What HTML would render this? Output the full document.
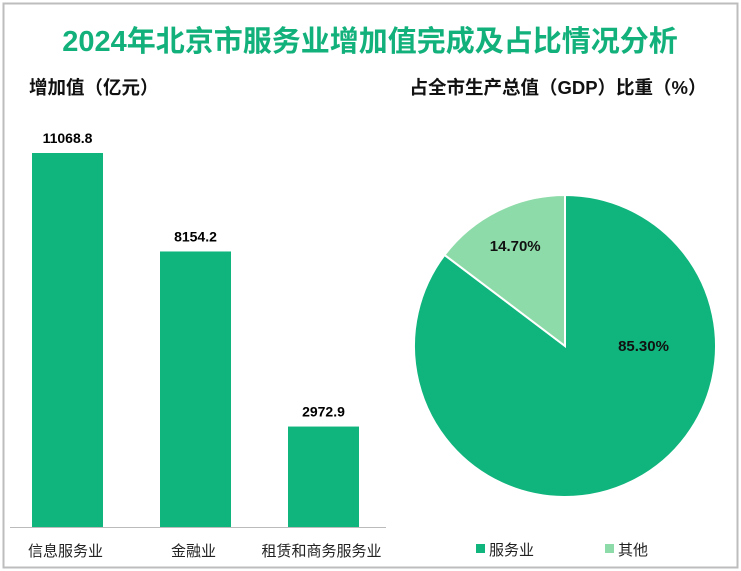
<!DOCTYPE html>
<html><head><meta charset="utf-8"><style>
body{margin:0;background:#fff;}
svg{display:block;font-family:"Liberation Sans","Noto Sans CJK SC",sans-serif;}
</style></head><body>
<svg id="c" width="741" height="571">
<rect x="3.5" y="3.5" width="734" height="564" fill="#fff" stroke="#bdbdbd" stroke-width="2"/>
<text x="370" y="51" text-anchor="middle" font-size="29" font-weight="bold" fill="#12b07a">2024年北京市服务业增加值完成及占比情况分析</text>
<text x="29" y="94" font-size="18.5" font-weight="bold" fill="#111">增加值（亿元）</text>
<text x="558" y="94" text-anchor="middle" font-size="18.5" font-weight="bold" fill="#111">占全市生产总值（GDP）比重（%）</text>
<line x1="10" y1="527.5" x2="386" y2="527.5" stroke="#bbb"/>
<g id="bars"></g><g id="pie"></g>
<rect x="476" y="544" width="9" height="9" fill="#10b47d"/>
<text x="489" y="555" font-size="15" fill="#222">服务业</text>
<rect x="605" y="544" width="9" height="9" fill="#8ddba8"/>
<text x="618" y="555" font-size="15" fill="#222">其他</text>
</svg>
<script>
const categories=["信息服务业","金融业","租赁和商务服务业"];
const values=[11068.8,8154.2,2972.9];
const valueLabels=["11068.8","8154.2","2972.9"];
const pieLabels=["服务业","其他"];
const pieValues=[85.30,14.70];
const pieColors=["#10b47d","#8ddba8"];
const NS="http://www.w3.org/2000/svg";
const bars=document.getElementById('bars');
const base=527,scale=374/11068.8;
function y(v){return base-v*scale;}
function xc(i){return 67.5+i*128;}
categories.forEach((c,i)=>{
 const r=document.createElementNS(NS,'rect');
 r.setAttribute('x',xc(i)-35.5);r.setAttribute('y',y(values[i]));
 r.setAttribute('width',71);r.setAttribute('height',base-y(values[i]));
 r.setAttribute('fill','#10b47d');
 
 
 bars.appendChild(r);
 const t=document.createElementNS(NS,'text');
 t.setAttribute('x',xc(i));t.setAttribute('y',y(values[i])-10);
 t.setAttribute('text-anchor','middle');t.setAttribute('font-size','14');t.setAttribute('font-weight','bold');
 t.textContent=valueLabels[i];
 
 
 bars.appendChild(t);
 const l=document.createElementNS(NS,'text');
 l.setAttribute('x',xc(i)-2);l.setAttribute('y',556);
 l.setAttribute('text-anchor','middle');l.setAttribute('font-size','15');l.setAttribute('fill','#222');
 l.textContent=c;
 
 
 bars.appendChild(l);
});
const pie=document.getElementById('pie');
const cx=565,cy=346,R=151;
const total=pieValues.reduce((a,b)=>a+b,0);
let a0=0;
pieValues.forEach((v,i)=>{
 const a1=a0+v/total*2*Math.PI;
 const p=a=>[cx+R*Math.sin(a),cy-R*Math.cos(a)];
 const s=p(a0),e=p(a1);
 const path=document.createElementNS(NS,'path');
 path.setAttribute('d',`M${cx},${cy}L${s[0]},${s[1]}A${R},${R} 0 ${a1-a0>Math.PI?1:0} 1 ${e[0]},${e[1]}Z`);
 path.setAttribute('fill',pieColors[i]);path.setAttribute('stroke','#fff');path.setAttribute('stroke-width','2');
 
 
 pie.appendChild(path);
 let m=(a0+a1)/2, rr=R*0.74;
 if(a1-a0>Math.PI){m=Math.PI/2;rr=R*0.52;}
 const lp=[cx+rr*Math.sin(m),cy-rr*Math.cos(m)];
 const t=document.createElementNS(NS,'text');
 t.setAttribute('x',lp[0]);t.setAttribute('y',lp[1]+5);t.setAttribute('text-anchor','middle');
 t.setAttribute('font-size','15');t.setAttribute('font-weight','bold');t.setAttribute('fill','#111');
 t.textContent=pieValues[i].toFixed(2)+'%';
 
 
 pie.appendChild(t);
 a0=a1;
});
</script>
</body></html>
